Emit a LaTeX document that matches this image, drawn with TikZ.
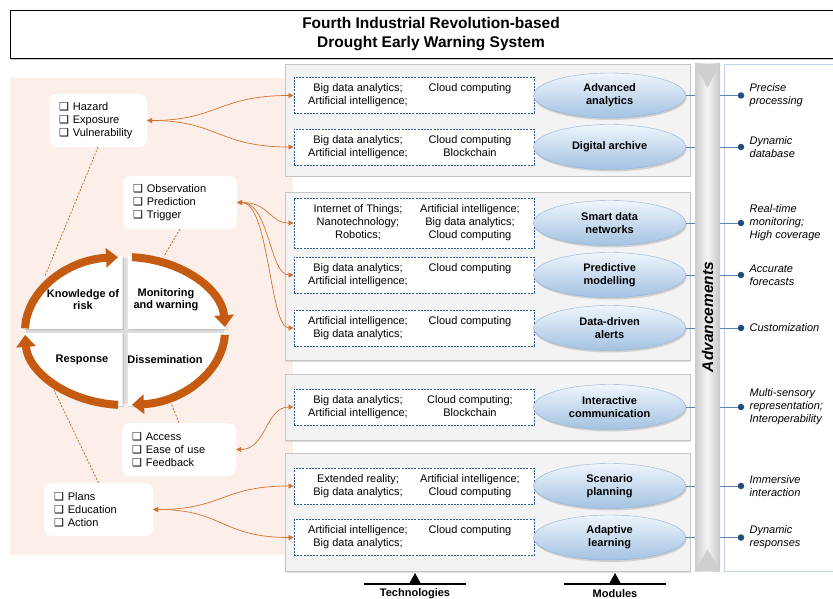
\documentclass[tikz,border=0pt]{standalone}
\usepackage{fontspec}
\setmainfont{Liberation Sans}
\newfontfamily\symf{DejaVu Sans}
\usetikzlibrary{arrows.meta, positioning, shapes.geometric, shadows, calc}

\definecolor{peach}{HTML}{FCEFE9}
\definecolor{cycorange}{HTML}{C55A11}
\definecolor{linkorange}{HTML}{D8712F}
\definecolor{techblue}{HTML}{2E5A96}
\definecolor{modtop}{HTML}{EEF5FC}
\definecolor{modbottom}{HTML}{A3C2E2}
\definecolor{modborder}{HTML}{8FB0D3}
\definecolor{dotblue}{HTML}{1F4E79}
\definecolor{advblue}{HTML}{5F85B5}
\definecolor{panelfill}{HTML}{F3F3F3}
\definecolor{panelline}{HTML}{C4C4C4}
\definecolor{rightline}{HTML}{C3D3EA}

\newcommand{\chk}{{\symf\fontsize{11}{11}\selectfont ❑}\hspace{4pt}}
\newcommand{\techs}[2]{\parbox[t]{112pt}{\centering #1}\parbox[t]{112pt}{\centering #2}}

\begin{document}
\begin{tikzpicture}[
  x=1pt, y=-1pt,
  font=\fontsize{11}{13}\selectfont,
  titlebox/.style={draw, line width=0.8pt, fill=white, minimum width=842, minimum height=48, align=center,
    font=\bfseries\fontsize{15.5}{19}\selectfont, drop shadow={opacity=0.4, shadow xshift=1pt, shadow yshift=-2pt}},
  listbox/.style={fill=white, rounded corners=8pt, inner xsep=10pt, minimum height=53, align=left},
  quad/.style={fill=white, drop shadow={opacity=0.35, shadow xshift=1pt, shadow yshift=-1pt}},
  quadlabel/.style={align=center, font=\bfseries\fontsize{11}{12}\selectfont},
  cyclearrow/.style={draw=cycorange, line width=8pt, -{Triangle[length=12pt, width=19pt]}},
  riskline/.style={draw=cycorange, line width=0.7pt, dash pattern=on 2pt off 1.5pt},
  link/.style={draw=linkorange, line width=0.7pt, {Triangle[length=5pt, width=5pt]}-{Triangle[length=5pt, width=5pt]}},
  panel/.style={draw=panelline, fill=panelfill, line width=0.8pt, drop shadow={opacity=0.25, shadow xshift=1pt, shadow yshift=-1.5pt}},
  techbox/.style={draw=techblue, dash pattern=on 2pt off 1.2pt, line width=0.8pt, fill=white, minimum width=240, inner sep=0pt},
  module/.style={ellipse, draw=modborder, top color=modtop, bottom color=modbottom, minimum width=152, minimum height=45,
    inner sep=0pt, align=center, font=\bfseries\fontsize{11}{13}\selectfont, drop shadow={opacity=0.3, shadow xshift=1pt, shadow yshift=-2pt}},
  advline/.style={draw=advblue, line width=0.8pt},
  dot/.style={circle, fill=dotblue, inner sep=0pt, minimum size=6.5},
  adv/.style={align=left, font=\itshape\fontsize{11}{13}\selectfont, inner sep=2pt},
  marker/.style={font=\bfseries\fontsize{11}{13}\selectfont}
]
\useasboundingbox (0,0) rectangle (833,599);

% title
\node[titlebox] (title) at (431,34) {Fourth Industrial Revolution-based\\Drought Early Warning System};

% left part: early warning cycle
\fill[peach] (10,78) rectangle (293,555);

\node[listbox, text width=78] (hazard) at (98,120.5) {\chk Hazard\\\chk Exposure\\\chk Vulnerability};
\node[listbox, text width=94] (obs) at (180,202.5) {\chk Observation\\\chk Prediction\\\chk Trigger};
\node[listbox, text width=94] (access) at (179,449.5) {\chk Access\\\chk Ease of use\\\chk Feedback};
\node[listbox, text width=89] (plans) at (98.5,509.5) {\chk Plans\\\chk Education\\\chk Action};

\coordinate (cyc) at (125,331);
\coordinate (rimkr) at (45,276);
\coordinate (rimmw) at (164,256);
\coordinate (rimds) at (171,403);
\coordinate (rimrs) at (54,390);

\draw[riskline] (hazard.south) -- (rimkr);
\draw[riskline] (obs.south) -- (rimmw);
\draw[riskline] (access.north) -- (rimds);
\draw[riskline] (plans.north) -- (rimrs);

% gaps between the quarters
\fill[gray!28] (122,258) rectangle (128,404);
\fill[gray!28] (26,328.5) rectangle (224,333.5);

\fill[quad] (122.5,329) -- ++(-99,0) arc[start angle=180, end angle=270, x radius=99, y radius=73] -- cycle;
\fill[quad] (127.5,329) -- ++(0,-73) arc[start angle=270, end angle=360, x radius=99, y radius=73] -- cycle;
\fill[quad] (127.5,333) -- ++(99,0) arc[start angle=0, end angle=90, x radius=99, y radius=73] -- cycle;
\fill[quad] (122.5,333) -- ++(0,73) arc[start angle=90, end angle=180, x radius=99, y radius=73] -- cycle;

\draw[cyclearrow] ($(cyc)+(182:100 and 74)$) arc[start angle=182, end angle=266, x radius=100, y radius=74];
\draw[cyclearrow] ($(cyc)+(274:100 and 74)$) arc[start angle=274, end angle=357, x radius=100, y radius=74];
\draw[cyclearrow] ($(cyc)+(3:100 and 74)$) arc[start angle=3, end angle=86, x radius=100, y radius=74];
\draw[cyclearrow] ($(cyc)+(94:100 and 74)$) arc[start angle=94, end angle=177, x radius=100, y radius=74];

\node[quadlabel] (kr) at (83,300) {Knowledge of\\risk};
\node[quadlabel] (mw) at (166,300) {Monitoring\\and warning};
\node[quadlabel] (rs) at (82,360) {Response};
\node[quadlabel] (ds) at (165,360) {Dissemination};

% middle part: technologies and modules
\draw[panel] (285,64) rectangle (690,176);
\draw[panel] (285,192) rectangle (690,360);
\draw[panel] (285,374) rectangle (690,440);
\draw[panel] (285,453) rectangle (690,571);

\node[techbox, minimum height=36] (t1) at (414,95.5) {\techs{Big data analytics;\\Artificial intelligence;}{Cloud computing}};
\node[techbox, minimum height=36] (t2) at (414,147) {\techs{Big data analytics;\\Artificial intelligence;}{Cloud computing\\Blockchain}};
\node[techbox, minimum height=50] (t3) at (414,223) {\techs{Internet of Things;\\Nanotechnology;\\Robotics;}{Artificial intelligence;\\Big data analytics;\\Cloud computing}};
\node[techbox, minimum height=36] (t4) at (414,275) {\techs{Big data analytics;\\Artificial intelligence;}{Cloud computing}};
\node[techbox, minimum height=36] (t5) at (414,328) {\techs{Artificial intelligence;\\Big data analytics;}{Cloud computing}};
\node[techbox, minimum height=36] (t6) at (414,407) {\techs{Big data analytics;\\Artificial intelligence;}{Cloud computing;\\Blockchain}};
\node[techbox, minimum height=36] (t7) at (414,486) {\techs{Extended reality;\\Big data analytics;}{Artificial intelligence;\\Cloud computing}};
\node[techbox, minimum height=36] (t8) at (414,537.5) {\techs{Artificial intelligence;\\Big data analytics;}{Cloud computing}};

\node[module, right=-1pt of t1] (m1) {Advanced\\analytics};
\node[module, right=-1pt of t2] (m2) {Digital archive};
\node[module, right=-1pt of t3] (m3) {Smart data\\networks};
\node[module, right=-1pt of t4] (m4) {Predictive\\modelling};
\node[module, right=-1pt of t5] (m5) {Data-driven\\alerts};
\node[module, right=-1pt of t6] (m6) {Interactive\\communication};
\node[module, right=-1pt of t7] (m7) {Scenario\\planning};
\node[module, right=-1pt of t8] (m8) {Adaptive\\learning};

\draw[link] (hazard.east) .. controls +(70,0) and +(-75,0) .. (t1.west);
\draw[link] (hazard.east) .. controls +(70,0) and +(-75,0) .. (t2.west);
\draw[link] (obs.east) .. controls +(32,0) and +(-24,0) .. (t3.west);
\draw[link] (obs.east) .. controls +(32,0) and +(-24,0) .. (t4.west);
\draw[link] (obs.east) .. controls +(32,0) and +(-24,0) .. (t5.west);
\draw[link] (access.east) .. controls +(30,0) and +(-28,0) .. (t6.west);
\draw[link] (plans.east) .. controls +(70,0) and +(-72,0) .. (t7.west);
\draw[link] (plans.east) .. controls +(70,0) and +(-72,0) .. (t8.west);

% right part: advancements
\draw[draw=rightline, fill=white, line width=0.8pt] (724,64) rectangle (845,571);

\coordinate (dotcol) at (741,0);
\node[dot] (d1) at (m1 -| dotcol) {};
\node[dot] (d2) at (m2 -| dotcol) {};
\node[dot] (d3) at (m3 -| dotcol) {};
\node[dot] (d4) at (m4 -| dotcol) {};
\node[dot] (d5) at (m5 -| dotcol) {};
\node[dot] (d6) at (m6 -| dotcol) {};
\node[dot] (d7) at (m7 -| dotcol) {};
\node[dot] (d8) at (m8 -| dotcol) {};

\draw[advline] (m1.east) -- (d1);
\draw[advline] (m2.east) -- (d2);
\draw[advline] (m3.east) -- (d3);
\draw[advline] (m4.east) -- (d4);
\draw[advline] (m5.east) -- (d5);
\draw[advline] (m6.east) -- (d6);
\draw[advline] (m7.east) -- (d7);
\draw[advline] (m8.east) -- (d8);

% the advancements bar
\shade[left color=gray!40, right color=gray!45, middle color=gray!8] (695,64) rectangle (720,571);
\fill[gray!38] (695,64) -- (720,64) -- (707.5,88) -- cycle;
\fill[gray!38] (695,571) -- (720,571) -- (707.5,549) -- cycle;
\node[rotate=90, font=\bfseries\itshape\fontsize{15.5}{18}\selectfont] (advlabel) at (707.5,317) {Advancements};

\node[adv, right=3pt of d1] (a1) {Precise\\processing};
\node[adv, right=3pt of d2] (a2) {Dynamic\\database};
\node[adv, right=3pt of d3] (a3) {Real-time\\monitoring;\\High coverage};
\node[adv, right=3pt of d4] (a4) {Accurate\\forecasts};
\node[adv, right=3pt of d5] (a5) {Customization};
\node[adv, right=3pt of d6] (a6) {Multi-sensory\\representation;\\Interoperability};
\node[adv, right=3pt of d7] (a7) {Immersive\\interaction};
\node[adv, right=3pt of d8] (a8) {Dynamic\\responses};

% bottom markers
\node[marker] (techlabel) at (415,594) {Technologies};
\node[marker] (modlabel) at (615,594) {Modules};
\draw[line width=2.2pt] (364,584) -- (466,584);
\fill (409,584) -- (415,573) -- (421,584) -- cycle;
\draw[line width=2.2pt] (564,584) -- (666,584);
\fill (609,584) -- (615,573) -- (621,584) -- cycle;
\end{tikzpicture}
\end{document}
